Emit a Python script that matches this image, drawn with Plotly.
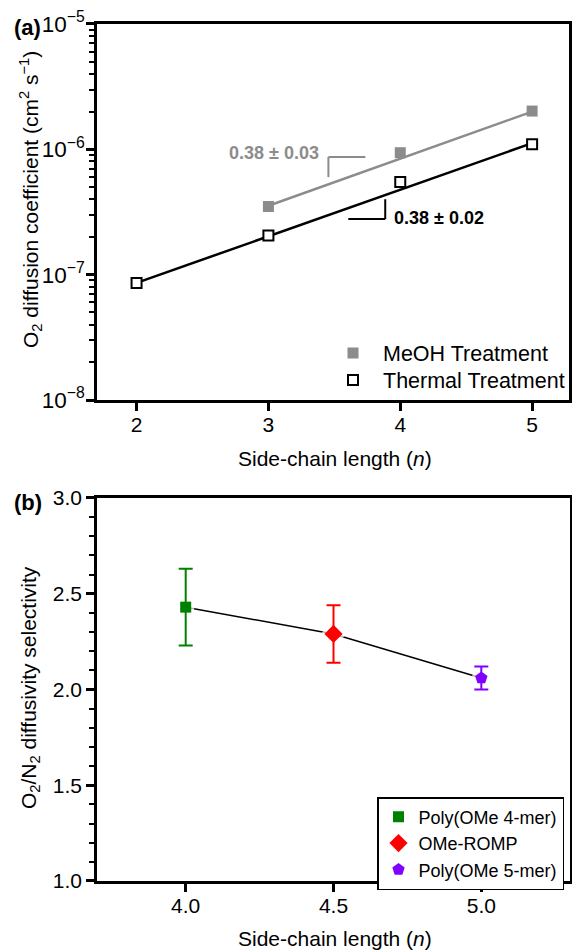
import plotly.graph_objects as go

FONT = "Arial, 'Liberation Sans', sans-serif"

# ---------------- data: panel (a) ----------------
n_meoh = [3, 4, 5]
D_meoh = [3.5e-7, 9.4e-7, 2.02e-6]
n_thermal = [2, 3, 4, 5]
D_thermal = [8.6e-8, 2.05e-7, 5.5e-7, 1.10e-6]
fit_meoh_n = [3, 5]
fit_meoh_D = [3.55e-7, 2.0e-6]
fit_thermal_n = [2, 5]
fit_thermal_D = [8.6e-8, 1.12e-6]
slope_labels = ["0.38 ± 0.03", "0.38 ± 0.02"]
ytick_vals_a = [1e-8, 1e-7, 1e-6, 1e-5]
ytick_text_a = ["10<sup>−8</sup>", "10<sup>−7</sup>", "10<sup>−6</sup>", "10<sup>−5</sup>"]
xtick_vals_a = [2, 3, 4, 5]

# ---------------- data: panel (b) ----------------
names_b = ["Poly(OMe 4-mer)", "OMe-ROMP", "Poly(OMe 5-mer)"]
n_b = [4.0, 4.5, 5.0]
sel_b = [2.43, 2.29, 2.06]
err_b = [0.20, 0.15, 0.06]
colors_b = ["#008000", "#ff0000", "#8000ff"]
symbols_b = ["square", "diamond", "pentagon"]
sizes_b = [11, 14, 13]
xtick_vals_b = [4.0, 4.5, 5.0]

fig = go.Figure()

# panel (a)
fig.add_trace(go.Scatter(x=fit_meoh_n, y=fit_meoh_D, mode="lines",
                         line=dict(color="#8c8c8c", width=2.5),
                         showlegend=False, hoverinfo="skip", xaxis="x", yaxis="y"))
fig.add_trace(go.Scatter(x=fit_thermal_n, y=fit_thermal_D, mode="lines",
                         line=dict(color="black", width=2.5),
                         showlegend=False, hoverinfo="skip", xaxis="x", yaxis="y"))
fig.add_trace(go.Scatter(x=n_meoh, y=D_meoh, mode="markers", name="MeOH Treatment",
                         marker=dict(symbol="square", size=11, color="#8c8c8c"),
                         xaxis="x", yaxis="y", legend="legend"))
fig.add_trace(go.Scatter(x=n_thermal, y=D_thermal, mode="markers", name="Thermal Treatment",
                         marker=dict(symbol="square", size=10, color="white",
                                     line=dict(color="black", width=2)),
                         xaxis="x", yaxis="y", legend="legend3"))

# panel (b)
fig.add_trace(go.Scatter(x=n_b, y=sel_b, mode="lines", line=dict(color="black", width=1.5),
                         showlegend=False, hoverinfo="skip", xaxis="x2", yaxis="y2"))
fig.add_trace(go.Scatter(x=n_b, y=sel_b, mode="markers",
                         marker=dict(symbol=symbols_b, size=[s + 4 for s in sizes_b], color="white",
                                     line=dict(color="white", width=2)),
                         showlegend=False, hoverinfo="skip", xaxis="x2", yaxis="y2"))
for i in range(len(n_b)):
    fig.add_trace(go.Scatter(
        x=[n_b[i]], y=[sel_b[i]], mode="markers", name=names_b[i],
        marker=dict(symbol=symbols_b[i], size=sizes_b[i], color=colors_b[i]),
        error_y=dict(type="data", array=[err_b[i]], color=colors_b[i], thickness=2, width=7),
        xaxis="x2", yaxis="y2", legend="legend2"))

axis_common = dict(showline=True, linecolor="black", linewidth=2.5, mirror=True,
                   ticks="outside", ticklen=8, tickwidth=2.5, tickcolor="black",
                   showgrid=False, zeroline=False, automargin=False,
                   tickfont=dict(family=FONT, size=21, color="black"))

minor_a = [m * 10 ** e for e in (-8, -7, -6) for m in range(2, 10)]

legend_a = dict(xanchor="left", yanchor="middle", bgcolor="rgba(0,0,0,0)", borderwidth=0,
                itemwidth=50, font=dict(family=FONT, size=21.5, color="black"))

fig.update_layout(
    width=572, height=952,
    margin=dict(l=0, r=0, t=0, b=0, autoexpand=False),
    paper_bgcolor="white", plot_bgcolor="white",
    font=dict(family=FONT, color="black"),
    xaxis=dict(axis_common, domain=[0.1696, 0.9948], range=[1.7, 5.28],
               tickmode="array", tickvals=xtick_vals_a, anchor="y", ticklabelstandoff=-4),
    yaxis=dict(axis_common, domain=[0.5798, 0.9748], type="log", range=[-8, -5],
               tickmode="array", tickvals=ytick_vals_a, ticktext=ytick_text_a, anchor="x",
               tickfont=dict(family=FONT, size=22.5, color="black"), ticklabelstandoff=-3,
               minor=dict(tickmode="array", tickvals=minor_a, ticks="outside",
                          ticklen=5, tickwidth=2, tickcolor="black", showgrid=False)),
    xaxis2=dict(axis_common, domain=[0.1696, 0.9965], range=[3.70, 5.30],
                tickmode="array", tickvals=xtick_vals_b, tickformat=".1f", anchor="y2",
                ticklabelstandoff=-4),
    yaxis2=dict(axis_common, domain=[0.0746, 0.4769], range=[1.0, 3.0],
                tickmode="linear", tick0=1.0, dtick=0.5, tickformat=".1f", anchor="x2",
                minor=dict(dtick=0.1, ticks="outside", ticklen=5, tickwidth=2,
                           tickcolor="black", showgrid=False)),
    legend=dict(legend_a, x=323 / 572, y=1 - 353 / 952),
    legend3=dict(legend_a, x=323 / 572, y=1 - 380 / 952),
    legend2=dict(x=377 / 572, y=1 - 797 / 952, xanchor="left", yanchor="top",
                 bgcolor="white", bordercolor="black", borderwidth=1.5,
                 font=dict(family=FONT, size=18, color="black")),
)

ann = []
ann.append(dict(text="<b>(a)</b>", x=12 / 572, y=1 - 27 / 952, xref="paper", yref="paper",
                xanchor="left", yanchor="middle", showarrow=False,
                font=dict(family=FONT, size=22, color="black")))
ann.append(dict(text="<b>(b)</b>", x=12 / 572, y=1 - 502 / 952, xref="paper", yref="paper",
                xanchor="left", yanchor="middle", showarrow=False,
                font=dict(family=FONT, size=22, color="black")))
ann.append(dict(text="O<sub>2</sub> diffusion coefficient (cm<sup>2</sup> s<sup>−1</sup>)",
                x=30 / 572, y=1 - 200 / 952, xref="paper", yref="paper", textangle=-90,
                xanchor="center", yanchor="middle", showarrow=False,
                font=dict(family=FONT, size=21, color="black")))
ann.append(dict(text="O<sub>2</sub>/N<sub>2</sub> diffusivity selectivity",
                x=30 / 572, y=1 - 688 / 952, xref="paper", yref="paper", textangle=-90,
                xanchor="center", yanchor="middle", showarrow=False,
                font=dict(family=FONT, size=21, color="black")))
for yc in (458, 938):
    ann.append(dict(text="Side-chain length (<i>n</i>)", x=335 / 572, y=1 - yc / 952,
                    xref="paper", yref="paper", xanchor="center", yanchor="middle",
                    showarrow=False, font=dict(family=FONT, size=21, color="black")))
ann.append(dict(text="<b>" + slope_labels[0] + "</b>", x=3.04, y=-6.03, xref="x", yref="y",
                showarrow=False, font=dict(family=FONT, size=18, color="#8c8c8c")))
ann.append(dict(text="<b>" + slope_labels[1] + "</b>", x=4.29, y=-6.55, xref="x", yref="y",
                showarrow=False, font=dict(family=FONT, size=18, color="black")))
fig.update_layout(annotations=ann)

# slope brackets (shape coordinates on a log axis are in data units)
shapes = [
    dict(type="line", xref="x", yref="y", x0=3.455, x1=3.455, y0=6.0e-7, y1=8.69e-7,
         line=dict(color="#8c8c8c", width=2)),
    dict(type="line", xref="x", yref="y", x0=3.455, x1=3.735, y0=8.69e-7, y1=8.69e-7,
         line=dict(color="#8c8c8c", width=2)),
    dict(type="line", xref="x", yref="y", x0=3.886, x1=3.886, y0=4.0e-7, y1=2.78e-7,
         line=dict(color="black", width=2)),
    dict(type="line", xref="x", yref="y", x0=3.606, x1=3.886, y0=2.78e-7, y1=2.78e-7,
         line=dict(color="black", width=2)),
]
fig.update_layout(shapes=shapes)

fig.write_html("out.html")
